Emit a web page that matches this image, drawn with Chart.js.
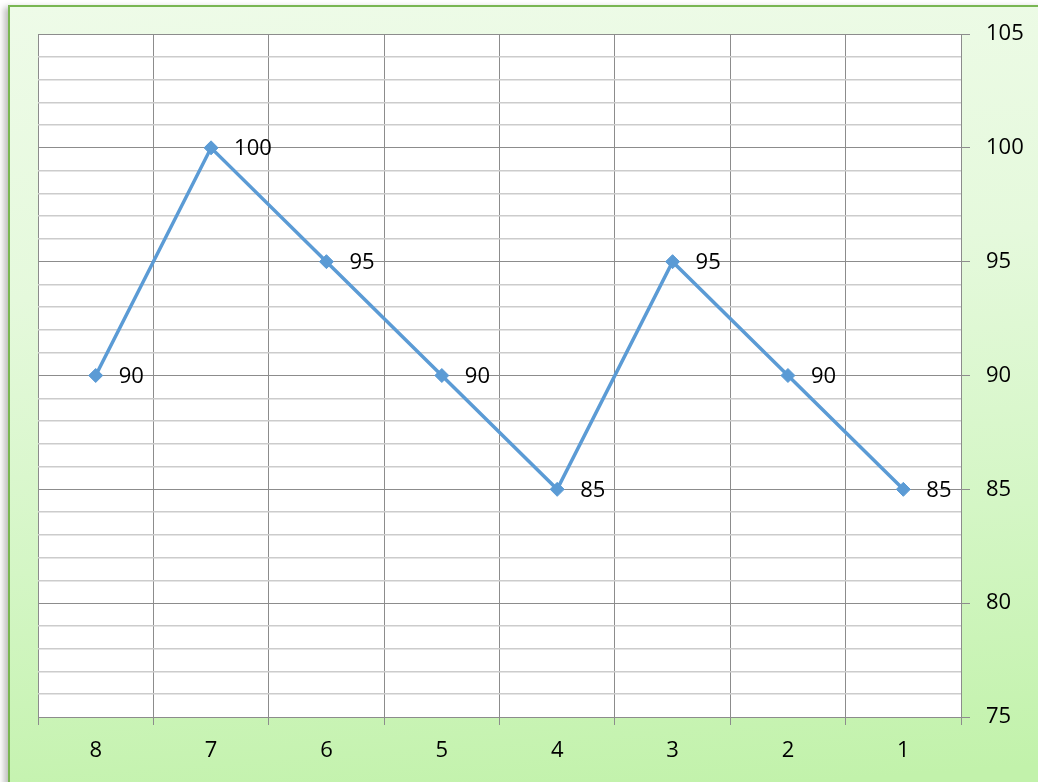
<!DOCTYPE html>
<html>
<head>
<meta charset="utf-8">
<script src="https://cdn.jsdelivr.net/npm/chart.js@4/dist/chart.umd.min.js"></script>
<style>
  html, body { margin: 0; padding: 0; overflow: hidden; background: #ffffff; }
  #frame {
    position: absolute; left: 8px; top: 5px; width: 1100px; height: 900px;
    border: 2px solid #79b653;
    background: linear-gradient(176deg, #eefbe8 0%, #e5f9dc 30%, #d4f6c5 58%, #c2f2ab 85%);
    box-shadow: -4px 2px 6px rgba(0,0,0,0.25);
  }
  #wrap { position: absolute; left: 0; top: 0; width: 1038px; height: 782px; }
</style>
</head>
<body>
<div id="frame"></div>
<div id="wrap"><canvas id="grafico" width="1038" height="782"></canvas></div>
<script>
// Dados do gráfico
const categorias = ['8', '7', '6', '5', '4', '3', '2', '1'];
const valores = [90, 100, 95, 90, 85, 95, 90, 85];
const eixoMin = 75;
const eixoMax = 105;

const fonte = { family: '"Open Sans", "Noto Sans", sans-serif', size: 22 };

// Fundo branco da área de plotagem
const fundoBranco = {
    id: 'fundoBranco',
    beforeDraw(chart) {
        const a = chart.chartArea;
        chart.ctx.save();
        chart.ctx.fillStyle = '#ffffff';
        chart.ctx.fillRect(a.left, a.top, a.right - a.left, a.bottom - a.top);
        chart.ctx.restore();
    }
};

// Rótulos dos valores ao lado direito de cada ponto
const rotulos = {
    id: 'rotulos',
    afterDatasetsDraw(chart) {
        const ctx = chart.ctx;
        const meta = chart.getDatasetMeta(0);
        ctx.save();
        ctx.font = fonte.size + 'px ' + fonte.family;
        ctx.fillStyle = '#000000';
        ctx.textAlign = 'left';
        ctx.textBaseline = 'middle';
        meta.data.forEach((p, i) => {
            ctx.fillText(String(valores[i]), p.x + 23, p.y + 1);
        });
        ctx.restore();
    }
};

const ctx = document.getElementById('grafico').getContext('2d');
const chart = new Chart(ctx, {
    type: 'line',
    data: {
        labels: categorias,
        datasets: [{
            data: valores,
            borderColor: '#5b9bd5',
            borderWidth: 3.5,
            fill: false,
            tension: 0,
            pointStyle: 'rectRot',
            pointRadius: 7,
            pointBackgroundColor: '#5b9bd5',
            pointBorderColor: '#5b9bd5',
            pointBorderWidth: 1
        }]
    },
    options: {
        responsive: false,
        animation: false,
        layout: { padding: { left: 38, top: 34, right: 0, bottom: 0 } },
        plugins: { legend: { display: false }, tooltip: { enabled: false } },
        scales: {
            x: {
                offset: true,
                grid: {
                    offset: true,
                    color: '#8c8c8c',
                    lineWidth: 1,
                    tickLength: 8,
                    tickColor: '#8c8c8c'
                },
                border: { display: true, color: '#8c8c8c', width: 1 },
                ticks: { color: '#000000', font: fonte, padding: 13, maxRotation: 0 },
                afterFit(scale) { scale.height = 782 - 717; }
            },
            y: {
                position: 'right',
                min: eixoMin,
                max: eixoMax,
                grid: {
                    color: c => (c.tick && c.tick.value % 5 === 0) ? '#8c8c8c' : '#cccccc',
                    lineWidth: c => (c.tick && c.tick.value % 5 === 0) ? 1 : 1.5,
                    tickLength: 9,
                    tickColor: c => (c.tick && c.tick.value % 5 === 0) ? '#8c8c8c' : 'rgba(0,0,0,0)'
                },
                border: { display: true, color: '#8c8c8c', width: 1 },
                ticks: {
                    stepSize: 1,
                    autoSkip: false,
                    color: '#000000',
                    font: fonte,
                    padding: 16,
                    callback: v => (v % 5 === 0 ? String(v) : '')
                },
                afterFit(scale) { scale.width = 1038 - 961; }
            }
        }
    },
    plugins: [fundoBranco, rotulos]
});
</script>
</body>
</html>
